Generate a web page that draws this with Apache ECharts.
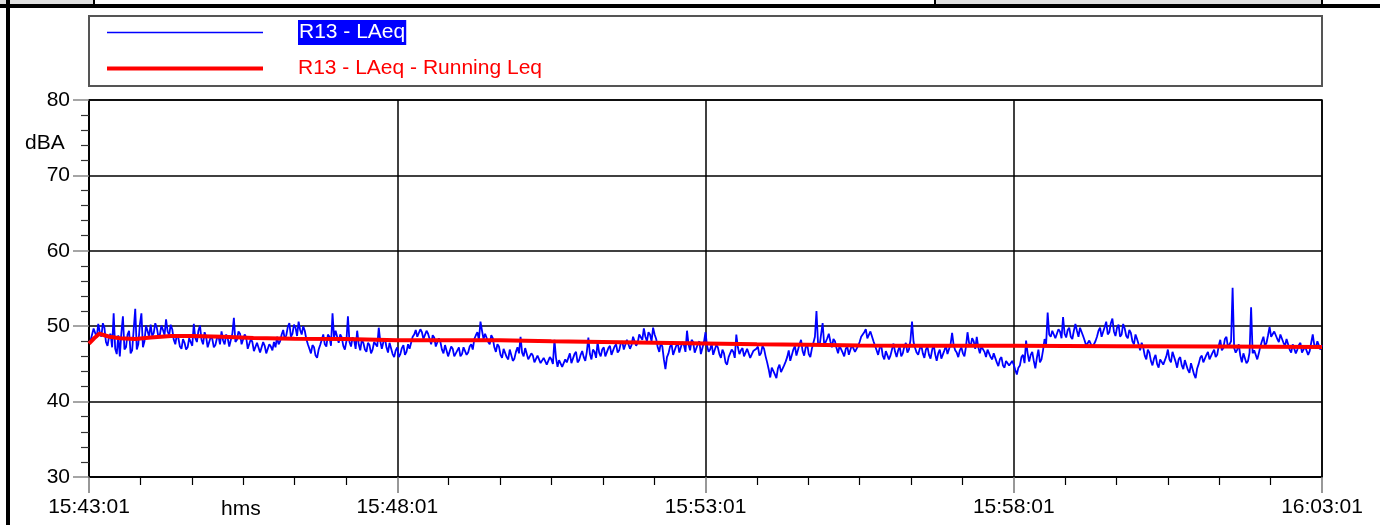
<!DOCTYPE html>
<html>
<head>
<meta charset="utf-8">
<script src="https://cdn.jsdelivr.net/npm/echarts@6/dist/echarts.min.js"></script>
<style>
html,body{margin:0;padding:0;background:#fff;}
#chart{width:1380px;height:525px;}
</style>
</head>
<body>
<div id="chart"></div>
<script>
// ---------- DATA ----------
const seriesNames = ["R13 - LAeq", "R13 - LAeq - Running Leq"];
const xTickLabels = ["15:43:01", "15:48:01", "15:53:01", "15:58:01", "16:03:01"];
const xTickSeconds = [0, 300, 600, 900, 1200];
const laeqStepSeconds = 3;
// LAeq (dBA) read at t = 0, 3, 6 ... s after 15:43:01
const laeqValues = [
  47.8,48.9,49.6,50.3,48.6,49.8,47.4,49.0,51.7,46.3,46.0,51.3,47.2,49.4,46.8,52.3,47.6,51.7,48.0,49.9,
  50.2,49.1,49.8,48.9,49.5,50.9,48.8,49.6,47.6,48.4,47.0,47.8,47.2,48.5,50.3,47.9,50.1,47.6,48.6,47.3,
  48.3,47.5,48.7,49.3,47.6,48.4,47.4,51.1,48.2,49.0,47.8,48.5,47.2,47.9,46.8,47.6,46.7,47.4,46.5,47.3,
  47.9,48.6,48.0,49.5,48.8,50.4,49.0,49.8,50.6,48.9,49.4,47.6,46.4,47.2,45.8,47.5,48.9,47.3,48.6,51.7,
  49.4,47.8,48.5,46.9,51.3,47.3,48.2,49.4,46.8,47.8,46.6,47.5,46.9,48.1,49.8,47.0,48.4,46.5,47.6,45.9,
  47.2,46.3,47.5,46.6,47.0,48.6,49.5,48.7,49.2,48.5,49.0,47.6,48.5,47.4,47.9,46.4,47.3,46.2,47.0,46.1,
  47.2,46.3,47.4,46.5,47.6,48.3,49.2,50.6,48.3,49.1,47.6,48.4,46.6,47.3,45.8,46.9,45.6,46.8,45.7,47.2,
  48.6,46.0,46.9,45.4,46.1,45.0,45.9,44.9,45.7,44.8,45.6,48.2,44.6,45.3,44.4,45.2,46.4,45.3,46.6,45.5,
  46.7,45.4,48.5,45.6,46.6,47.9,46.0,47.2,46.1,47.4,46.4,47.6,46.8,48.0,47.1,48.4,47.5,48.8,47.8,49.1,
  49.7,48.0,48.9,49.8,48.3,46.6,47.3,44.3,46.4,47.6,46.3,47.8,46.7,47.5,49.4,46.8,47.9,46.6,48.0,47.1,
  49.2,46.6,47.7,46.4,47.2,45.8,46.4,44.9,45.7,46.6,48.9,46.3,47.1,45.9,46.8,45.6,46.5,47.3,46.4,47.0,
  45.2,43.2,44.6,43.1,44.9,43.7,45.3,46.8,45.6,47.4,46.3,48.2,46.1,47.6,45.9,47.8,52.0,47.4,50.4,47.9,
  49.0,47.2,48.0,46.4,47.6,46.0,47.3,46.3,47.7,46.5,47.9,48.9,49.6,48.3,49.2,47.4,46.2,47.5,45.6,46.9,
  46.1,47.7,45.9,47.3,46.4,47.8,46.9,50.6,47.1,46.2,47.5,45.8,47.3,45.7,47.6,45.4,46.9,45.9,47.4,46.2,
  49.1,46.8,45.9,47.2,46.0,49.2,47.3,48.0,48.6,46.4,47.5,45.9,46.8,45.6,46.3,44.7,45.9,44.5,45.6,44.6,
  44.9,43.6,44.8,46.2,48.1,45.3,46.6,44.4,46.9,45.6,48.3,51.8,48.6,49.6,48.2,49.3,51.2,48.5,49.8,48.3,
  50.3,48.6,49.7,48.1,47.2,48.3,47.0,48.6,49.8,48.5,50.6,49.2,51.0,48.7,50.2,48.9,49.7,48.4,49.1,47.6,
  48.3,46.8,47.2,45.6,46.5,44.8,46.2,44.5,45.8,44.7,46.9,45.2,46.4,44.5,45.9,44.3,45.4,43.8,44.9,43.1,
  45.0,46.1,45.3,46.6,45.7,46.9,46.2,48.2,47.1,48.6,47.3,55.1,46.5,47.6,45.2,46.6,45.4,52.5,46.8,45.6,
  47.3,48.6,47.8,49.9,48.4,49.4,47.9,48.7,47.4,48.1,46.5,47.6,46.9,47.8,46.6,47.4,46.7,48.9,47.2,47.8,
  47.5
];
// LAeq (dBA) read at t = 1.5, 4.5, 7.5 ... s after 15:43:01 (between the readings above)
const laeqHalfStepValues = [
  48.1,49.7,48.5,49.2,50.4,47.9,48.6,47.2,47.0,48.8,49.1,46.9,48.9,46.4,49.6,46.9,50.2,47.2,50.1,48.6,
  48.7,50.4,48.6,50.1,48.8,49.3,50.2,48.2,48.9,47.3,48.3,46.9,48.4,47.4,48.4,49.4,48.2,49.2,47.2,48.6,
  47.2,48.4,47.6,48.1,48.9,47.3,49.0,47.9,49.3,47.6,48.9,47.0,48.3,46.7,47.8,46.5,47.9,46.4,47.6,46.8,
  47.2,47.6,48.9,48.3,49.9,48.6,50.2,48.7,49.5,50.0,48.3,47.0,47.5,46.1,46.9,48.2,47.6,48.9,47.4,48.5,
  48.6,48.9,47.4,48.0,47.9,48.5,47.0,47.6,48.2,46.9,47.8,46.4,47.9,47.3,48.0,47.9,47.2,47.8,46.3,46.8,
  45.9,47.1,46.2,47.6,47.8,48.9,48.6,49.6,48.3,49.4,48.3,48.8,47.3,48.4,46.9,47.5,46.0,47.3,46.0,46.8,
  46.0,47.2,46.2,47.3,46.9,48.8,48.2,49.4,49.0,47.9,48.8,47.2,47.6,46.2,47.0,45.9,46.9,45.4,46.6,46.4,
  46.5,47.1,45.6,46.4,45.2,46.1,45.1,45.8,44.9,45.9,45.0,45.8,45.5,44.6,45.6,45.8,45.1,46.3,45.2,46.2,
  45.9,46.6,46.3,46.9,45.8,46.5,46.9,46.0,47.1,46.2,47.3,46.5,47.7,46.9,48.2,47.0,48.6,47.4,48.9,48.2,
  48.6,49.2,48.0,48.9,47.2,47.8,45.6,45.9,47.3,46.2,47.4,46.5,47.9,46.6,47.6,48.2,46.5,47.6,46.3,47.9,
  47.4,46.9,46.2,47.5,46.3,46.9,45.2,45.9,46.9,45.8,47.2,46.8,46.0,47.0,45.8,46.7,47.0,46.1,47.4,46.0,
  44.3,44.5,43.6,44.4,43.9,44.8,45.9,45.4,46.9,46.1,47.6,46.7,47.2,46.3,47.0,48.6,47.8,48.9,47.6,48.4,
  48.0,48.3,47.1,47.4,46.5,47.0,46.2,47.5,46.6,47.4,48.6,49.2,48.4,49.3,48.0,46.8,47.1,46.1,46.7,45.6,
  46.9,46.6,46.8,46.0,47.3,46.5,48.2,47.9,46.5,47.0,46.4,46.9,46.2,46.8,46.3,46.4,45.7,46.8,46.3,47.6,
  47.5,46.5,46.8,46.4,47.3,47.8,48.4,47.0,47.2,47.3,46.6,46.9,45.9,46.4,45.2,45.6,44.8,45.4,44.8,45.4,
  44.2,44.5,45.9,45.1,46.4,46.2,45.4,45.8,45.2,46.8,47.6,48.9,49.4,48.4,49.6,48.4,49.0,49.5,48.6,49.4,
  49.4,49.8,48.7,47.4,48.1,47.2,48.0,49.4,48.6,49.9,48.9,50.4,49.3,49.8,48.6,50.3,48.7,49.5,48.0,48.9,
  47.6,47.8,46.1,46.9,45.4,45.7,45.0,45.6,44.9,46.0,45.6,46.6,45.3,45.6,44.8,45.5,44.2,45.1,43.6,44.4,
  45.8,45.2,46.2,45.6,46.5,45.9,47.4,46.8,48.3,47.2,48.0,47.1,46.9,46.1,46.4,45.1,46.5,46.4,46.9,46.4,
  48.0,47.4,48.8,48.6,49.3,48.3,48.9,47.8,48.3,46.9,47.6,46.4,47.5,46.5,47.3,46.2,47.8,47.5,48.0,46.9
];
// Running Leq (dBA) at given seconds after 15:43:01
const leqSeconds = [0,5,10,15,20,30,45,60,80,100,130,160,200,250,300,350,400,450,500,550,600,650,700,750,800,900,1000,1100,1200];
const leqValues  = [47.7,48.4,49.0,48.8,48.6,48.4,48.3,48.5,48.7,48.7,48.6,48.45,48.35,48.3,48.15,48.15,48.15,48.0,47.9,47.8,47.7,47.6,47.55,47.45,47.4,47.4,47.35,47.3,47.25];
const yAxisTitle = "dBA";
const xAxisTitle = "hms";

// ---------- CHART ----------
const laeqData = laeqValues.map((v, i) => [i * laeqStepSeconds, v])
  .concat(laeqHalfStepValues.map((v, i) => [i * laeqStepSeconds + laeqStepSeconds / 2, v]))
  .sort((a, b) => a[0] - b[0]);
const leqData = leqSeconds.map((t, i) => [t, leqValues[i]]);

const FONT = "'Liberation Sans', Arial, sans-serif";
const chart = echarts.init(document.getElementById('chart'), null, {renderer: 'canvas'});

const option = {
  animation: false,
  backgroundColor: '#fff',
  textStyle: {fontFamily: FONT},
  grid: {left: 89, top: 100, width: 1233, height: 377, show: true, borderColor: '#000', borderWidth: 1.5, backgroundColor: 'transparent'},
  legend: {
    orient: 'vertical',
    left: 105, top: 20, padding: 0,
    itemWidth: 156, itemHeight: 22, itemGap: 13,
    selectedMode: false,
    data: [
      {name: seriesNames[0], itemStyle: {opacity: 0}, lineStyle: {color: '#0000ff', width: 1.5}},
      {name: seriesNames[1], itemStyle: {opacity: 0}, lineStyle: {color: '#ff0000', width: 4}}
    ],
    formatter: function (name) {
      return name === seriesNames[0] ? '{g| }{h|' + name + '}' : '{g| }{r|' + name + '}';
    },
    textStyle: {
      fontFamily: FONT, fontSize: 21,
      rich: {
        g: {width: 30, fontSize: 21},
        h: {color: '#ffffff', backgroundColor: '#0000ff', fontSize: 21, fontFamily: FONT, padding: [2, 1, 2, 1]},
        r: {color: '#ff0000', fontSize: 21, fontFamily: FONT}
      }
    }
  },
  xAxis: {
    type: 'value', min: 0, max: 1200, interval: 300,
    axisLine: {show: true, lineStyle: {color: '#000', width: 1.5}},
    axisTick: {show: true, length: 16, lineStyle: {color: '#777', width: 1.5}},
    minorTick: {show: true, splitNumber: 6, length: 8, lineStyle: {color: '#000', width: 1.2}},
    splitLine: {show: true, lineStyle: {color: '#000', width: 1.5}},
    axisLabel: {
      margin: 20, color: '#000', fontSize: 21, fontFamily: FONT,
      formatter: function (v) {
        const i = xTickSeconds.indexOf(v);
        return i >= 0 ? xTickLabels[i] : '';
      }
    }
  },
  yAxis: {
    type: 'value', min: 30, max: 80, interval: 10,
    axisLine: {show: true, lineStyle: {color: '#000', width: 1.5}},
    axisTick: {show: true, length: 16, lineStyle: {color: '#888', width: 1.5}},
    minorTick: {show: true, splitNumber: 5, length: 8, lineStyle: {color: '#333', width: 1.2}},
    splitLine: {show: true, lineStyle: {color: '#000', width: 1.5}},
    axisLabel: {margin: 19, color: '#000', fontSize: 21, fontFamily: FONT}
  },
  graphic: [
    // window frame decorations
    {type: 'rect', shape: {x: 0, y: 0, width: 93, height: 5}, style: {fill: '#e0e0e0'}, z: 100},
    {type: 'rect', shape: {x: 935, y: 0, width: 387, height: 5}, style: {fill: '#e0e0e0'}, z: 100},
    {type: 'rect', shape: {x: 0, y: 4, width: 1380, height: 4}, style: {fill: '#000'}, z: 101},
    {type: 'rect', shape: {x: 93, y: 0, width: 2, height: 5}, style: {fill: '#000'}, z: 101},
    {type: 'rect', shape: {x: 934, y: 0, width: 2, height: 5}, style: {fill: '#000'}, z: 101},
    {type: 'rect', shape: {x: 1321, y: 0, width: 2, height: 5}, style: {fill: '#000'}, z: 101},
    {type: 'rect', shape: {x: 6, y: 0, width: 4, height: 525}, style: {fill: '#000'}, z: 101},
    // legend box
    {type: 'rect', shape: {x: 89, y: 16, width: 1233, height: 70}, style: {fill: 'none', stroke: '#555', lineWidth: 2}, z: 1},
    // axis titles
    {type: 'text', left: 25, top: 133, style: {text: yAxisTitle, fontSize: 21, fontFamily: FONT, fill: '#000'}},
    {type: 'text', left: 221, top: 499, style: {text: xAxisTitle, fontSize: 21, fontFamily: FONT, fill: '#000'}}
  ],
  series: [
    {
      name: seriesNames[0], type: 'line', data: laeqData, symbol: 'none',
      lineStyle: {color: '#0000ff', width: 1.8}, itemStyle: {color: '#0000ff'}, z: 3
    },
    {
      name: seriesNames[1], type: 'line', data: leqData, symbol: 'none',
      lineStyle: {color: '#ff0000', width: 4}, itemStyle: {color: '#ff0000'}, z: 4
    }
  ]
};
chart.setOption(option);
</script>
</body>
</html>
